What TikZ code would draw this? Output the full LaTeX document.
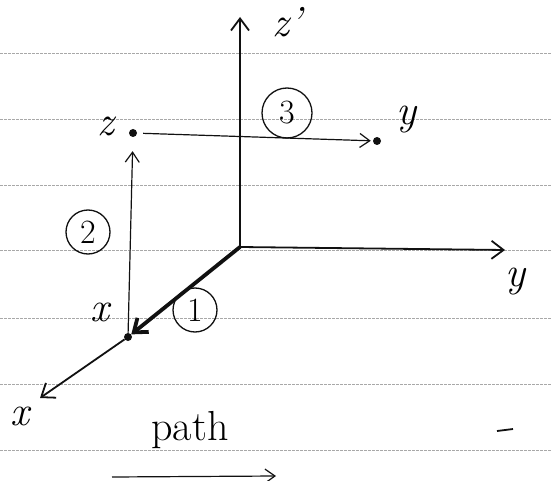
\documentclass[tikz,border=0pt]{standalone}
\usetikzlibrary{arrows.meta}
\definecolor{rule}{HTML}{A8A8A8}
\definecolor{ink}{HTML}{111111}
\newcommand{\hfont}{\fontsize{42}{44}\selectfont}
\newcommand{\nfont}{\fontsize{34}{36}\selectfont}
\begin{document}
\begin{tikzpicture}[x=1pt,y=-1pt,font=\hfont,
  axis/.style={ink,line width=1.8pt,-{Straight Barb[length=12pt,width=18pt]}},
  pathline/.style={ink,line width=1.2pt,-{Straight Barb[length=10pt,width=14pt]}},
  rulebar/.style={rule,line width=0.5pt,dash pattern=on 3pt off 1pt},
  spot/.style={circle,fill=ink,inner sep=0,minimum size=8pt},
  letter/.style={font=\hfont\itshape},
  stepnum/.style={circle,draw=ink,line width=1.3pt,inner sep=0,minimum size=44pt,font=\nfont}]
\useasboundingbox (0,0) rectangle (551,481);
\fill[white] (0,0) rectangle (551,481);
\foreach \ry in {53,119,185,250,318,384,450} \draw[rulebar] (0,\ry) -- (551,\ry);
% axes
\coordinate (O) at (240,247);
\coordinate (zend) at (240,17);
\coordinate (yend) at (505,250);
\coordinate (xend) at (40,398);
\draw[axis] (O) -- (zend);
\draw[axis] (O) -- (yend);
\node[letter] at (287,22) {z'};
\node[letter] at (515,282) {y};
\node[letter] at (20,416) {x};
% points of the path
\node[spot] (px) at (128,337) {};
\node[spot] (pz) at (133,133) {};
\node[spot] (py) at (377,141) {};
\draw[axis] (px) -- (xend);
\draw[ink,line width=3.8pt,-{Straight Barb[length=12pt,width=18pt]}] (O) -- (px);
\draw[pathline,shorten >=14pt] (px) -- (pz);
\draw[pathline,shorten <=6pt,shorten >=2pt] (pz) -- (py);
\node[letter] at (100,312) {x};
\node[letter] at (106,126) {z};
\node[letter] at (406,120) {y};
% steps
\node[stepnum] (s1) at (195,310) {1};
\node[stepnum] (s2) at (88,232) {2};
\node[stepnum,minimum size=50pt] (s3) at (287,113) {3};
% caption
\node (cap) at (190,430) {path};
\coordinate (ua) at (112,477);
\coordinate (ub) at (276,476);
\draw[pathline] (ua) -- (ub);
\coordinate (da) at (497,431);
\coordinate (db) at (513,429);
\draw[ink,line width=1.8pt] (da) -- (db);
\end{tikzpicture}
\end{document}
